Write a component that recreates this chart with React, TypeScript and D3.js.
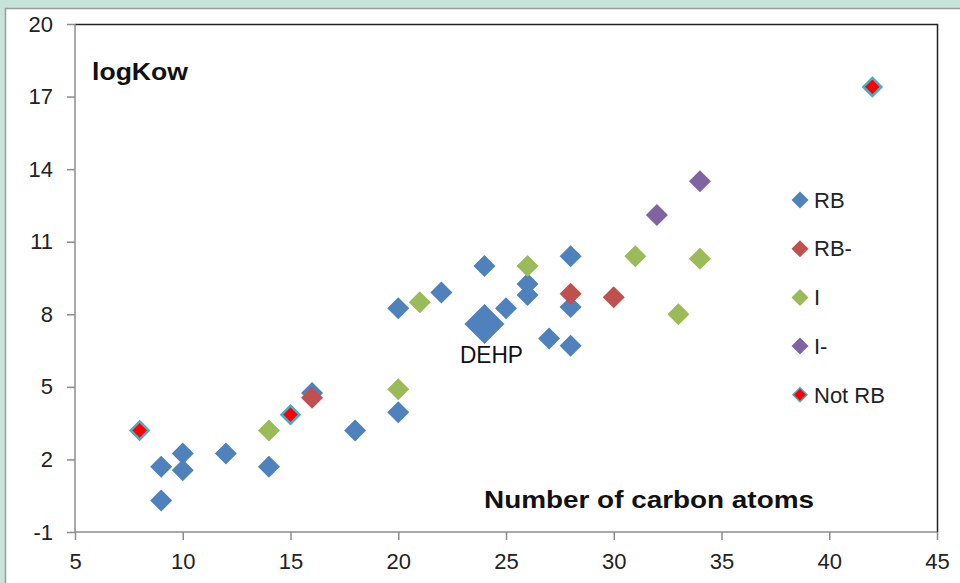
import React, { useEffect, useRef } from "react";
import * as d3 from "d3";

// carbon atoms / logKow per category
const rbX = [9, 9, 10, 10, 12, 14, 16, 18, 20, 20, 22, 24, 25, 26, 26, 27, 28, 28, 28];
const rbY = [1.7, 0.3, 2.25, 1.55, 2.25, 1.7, 4.75, 3.2, 3.95, 8.25, 8.9, 10.0, 8.25, 9.25, 8.8, 7.0, 10.4, 8.3, 6.7];
const rbMinusX = [16, 28, 30];
const rbMinusY = [4.55, 8.85, 8.7];
const iX = [14, 20, 21, 26, 31, 33, 34];
const iY = [3.2, 4.9, 8.5, 10.0, 10.4, 8.0, 10.3];
const iMinusX = [32, 34];
const iMinusY = [12.1, 13.5];
const notRbX = [8, 15, 42];
const notRbY = [3.2, 3.85, 17.4];
const dehp = { x: 24, y: 7.6 };

const xTicks = [5, 10, 15, 20, 25, 30, 35, 40, 45];
const yTicks = [-1, 2, 5, 8, 11, 14, 17, 20];

const series = [
  { name: "RB", xs: rbX, ys: rbY, fill: "#4f81bd", stroke: "none" },
  { name: "RB-", xs: rbMinusX, ys: rbMinusY, fill: "#c0504d", stroke: "none" },
  { name: "I", xs: iX, ys: iY, fill: "#9bbb59", stroke: "none" },
  { name: "I-", xs: iMinusX, ys: iMinusY, fill: "#8064a2", stroke: "none" },
  { name: "Not RB", xs: notRbX, ys: notRbY, fill: "#ff0000", stroke: "#4bacc6" },
];

const diamond = (r: number) => `M0,${-r}L${r},0L0,${r}L${-r},0Z`;

export default function App() {
  const ref = useRef<SVGSVGElement>(null);

  useEffect(() => {
    const svg = d3.select(ref.current);
    svg.selectAll("*").remove();
    const W = 960, H = 583;
    const left = 75, right = 937, top = 24, bottom = 532;
    const font = "'Liberation Sans', Arial, sans-serif";

    svg.append("rect").attr("width", W).attr("height", H).attr("fill", "#c8e4da");
    svg.append("rect").attr("x", 5.5).attr("y", 8.5).attr("width", W).attr("height", H)
      .attr("fill", "#fff").attr("stroke", "#9a9a9a").attr("stroke-width", 1.5);

    const x = d3.scaleLinear().domain([5, 45]).range([left, right]);
    const y = d3.scaleLinear().domain([-1, 20]).range([bottom, top]);

    // plot border (top/right black)
    svg.append("path")
      .attr("d", `M${left},${top + 0.5}H${right + 0.5}V${bottom}`)
      .attr("fill", "none").attr("stroke", "#222").attr("stroke-width", 1.5);

    const gy = svg.append("g").attr("transform", `translate(${left},0)`)
      .call(d3.axisLeft(y).tickValues(yTicks).tickSize(8).tickPadding(14).tickFormat((d) => String(d)));
    const gx = svg.append("g").attr("transform", `translate(0,${bottom})`)
      .call(d3.axisBottom(x).tickValues(xTicks).tickSize(8).tickPadding(13).tickFormat((d) => String(d)));
    [gx, gy].forEach((g) => {
      g.select(".domain").attr("stroke", "#8c8c8c").attr("stroke-width", 1.5);
      g.selectAll(".tick line").attr("stroke", "#8c8c8c").attr("stroke-width", 1.5);
      g.selectAll(".tick text").attr("fill", "#222").style("font-family", font).style("font-size", "22px");
    });
    gy.select(".domain").attr("d", `M0,${top}V${bottom}`);
    gx.select(".domain").attr("d", `M${left},0H${right}`);

    // points
    series.forEach((s) => {
      const g = svg.append("g");
      s.xs.forEach((xv, i) => {
        const isNot = s.name === "Not RB";
        g.append("path")
          .attr("d", diamond(isNot ? 9 : 11))
          .attr("transform", `translate(${x(xv)},${y(s.ys[i])})`)
          .attr("fill", s.fill)
          .attr("stroke", s.stroke)
          .attr("stroke-width", isNot ? 2.5 : 0);
      });
      if (s.name === "RB") {
        g.append("path")
          .attr("d", diamond(20))
          .attr("transform", `translate(${x(dehp.x)},${y(dehp.y)})`)
          .attr("fill", s.fill);
      }
    });

    svg.append("text").attr("x", 460).attr("y", 363).text("DEHP")
      .attr("textLength", 63).attr("lengthAdjust", "spacingAndGlyphs")
      .style("font-family", font).style("font-size", "24px").attr("fill", "#111");

    svg.append("text").attr("x", 92).attr("y", 80).text("logKow")
      .attr("textLength", 96).attr("lengthAdjust", "spacingAndGlyphs")
      .style("font-family", font).style("font-size", "24px").style("font-weight", "bold").attr("fill", "#111");

    svg.append("text").attr("x", 484).attr("y", 508).text("Number of carbon atoms")
      .attr("textLength", 330).attr("lengthAdjust", "spacingAndGlyphs")
      .style("font-family", font).style("font-size", "24px").style("font-weight", "bold").attr("fill", "#111");

    // legend
    const leg = svg.append("g");
    series.forEach((s, i) => {
      const ly = 200 + i * 48.7;
      const isNot = s.name === "Not RB";
      leg.append("path").attr("d", diamond(isNot ? 7 : 8.5))
        .attr("transform", `translate(800,${ly})`)
        .attr("fill", s.fill).attr("stroke", s.stroke).attr("stroke-width", isNot ? 1.5 : 0);
      leg.append("text").attr("x", 814).attr("y", ly).attr("dy", "0.35em").text(s.name)
        .style("font-family", font).style("font-size", "22px").attr("fill", "#222");
    });
  }, []);

  return (
    <svg ref={ref} width={960} height={583} style={{ position: "absolute", left: 0, top: 0 }} />
  );
}
